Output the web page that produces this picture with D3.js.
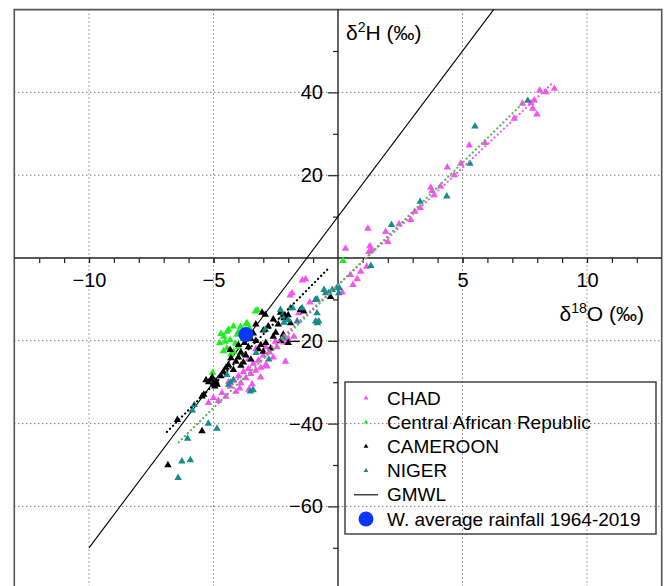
<!DOCTYPE html>
<html>
<head>
<meta charset="utf-8">
<script src="https://cdn.jsdelivr.net/npm/d3@7"></script>
<style>
  body { margin: 0; background: #fff; }
  svg text { font-family: "Liberation Sans", Arial, Helvetica, sans-serif; fill: #000; }
</style>
</head>
<body>
<div id="chart"></div>
<script>
// isotope samples, [d18O, d2H] in permil
const chadPts = [
  [8.69,40.9],[8.35,40.1],[8.1,40.5],[7.88,38.1],[7.75,37.4],[7.41,37.3],[7.82,36.1],[7.99,34.7],
  [7.08,33.7],[5.90,27.8],[5.27,27.2],[4.93,22.8],[4.67,20.0],[4.39,21.9],[4.12,17.3],[3.72,17.0],
  [3.78,16.2],[3.86,15.2],[3.30,12.1],[3.08,11.2],[2.92,9.2],[2.45,8.2],[1.91,6.3],[2.0,3.9],
  [1.2,7.1],[1.28,2.9],[1.24,1.5],[1.35,2.0],[0.91,-3.3],[0.30,2.3],[1.15,-2.1],[0.77,-5.1],
  [0.50,-4.1],[0.17,-8.3],[0.6,-6.5],[-1.43,-5.4],[-1.3,-5.1],[-1.84,-8.5],[-1.92,-9.0],[-1.13,-10.7],
  [-1.58,-13.3],[-1.44,-12.4],[-2.52,-20.2],[-2.18,-20.4],[-2.11,-25.0],[-1.77,-19.0],[-2.85,-26.2],
  [-3.11,-28.8],[-3.58,-31.8],[-4.33,-31.0],[-5.2,-35.0],[-5.0,-33.8],[-4.66,-32.6],[-2.9,-21.5],
  [-4.2,-29.5],[-4.0,-28.5],[-3.9,-30.2],[-3.8,-27.5],[-3.7,-29.0],[-3.6,-26.8],[-3.5,-28.0],
  [-3.4,-25.5],[-3.3,-27.2],[-3.2,-24.8],[-3.1,-26.5],[-3.0,-23.5],[-2.9,-25.8],[-2.75,-22.8],
  [-2.6,-24.0],[-3.95,-31.5],[-4.1,-32.3],[-4.4,-30.0],[-3.45,-30.5],[-3.3,-22.0],[-2.45,-21.5],
  [-2.0,-19.5],[-3.6,-24.5],[-4.5,-33.5],[-4.8,-34.5]
];
const carPts = [
  [-3.32,-12.9],[-3.24,-12.6],[-4.39,-17.3],[-4.2,-16.5],[-4.0,-17.8],[-4.59,-19.0],[-4.33,-19.8],
  [-4.12,-20.6],[-3.92,-16.6],[-4.46,-21.8],[-4.19,-22.6],[-4.46,-17.8],[-4.53,-20.2],[-4.3,-23.3],
  [-4.0,-21.5],[-3.8,-19.5],[-3.65,-15.7],[-3.7,-16.0],[-4.7,-18.3],[-4.75,-20.5],[-3.9,-23.0],
  [-4.6,-22.5],[-4.05,-18.5],[-3.55,-17.0],[-5.04,-27.7],[0.2,-0.7]
];
const cameroonPts = [
  [-2.92,-13.7],[-2.17,-14.5],[-2.17,-14.0],[-2.0,-13.8],[-3.05,-13.2],[-2.31,-13.2],[-2.11,-14.1],
  [-1.51,-12.5],[-1.37,-12.9],[-1.91,-15.7],[-0.30,-9.4],[-3.3,-20.0],[-3.1,-21.0],[-3.0,-22.6],
  [-3.2,-22.0],[-2.9,-20.5],[-2.6,-19.0],[-2.5,-18.0],[-2.7,-21.8],[-3.5,-19.5],[-3.4,-18.2],
  [-2.8,-16.5],[-2.4,-16.0],[-3.6,-21.5],[-3.7,-23.5],[-3.5,-24.5],[-4.33,-22.2],[-4.3,-24.2],
  [-4.1,-25.0],[-3.9,-26.0],[-4.2,-27.0],[-4.0,-24.0],[-3.8,-25.2],[-4.5,-26.5],[-4.6,-27.5],
  [-5.1,-29.4],[-5.0,-30.2],[-4.9,-29.8],[-4.85,-30.6],[-5.2,-30.0],[-5.3,-29.5],[-5.05,-28.8],
  [-4.95,-31.0],[-5.39,-33.0],[-5.46,-33.4],[-5.46,-41.8],[-6.45,-39.1],[-6.83,-50.0],[-2.2,-18.5],
  [-2.0,-20.5],[-2.3,-20.0],[-3.0,-17.5],[-3.3,-16.0],[-2.6,-14.8],[-3.6,-18.8],[-4.0,-21.0],
  [-3.75,-20.5],[-4.4,-25.8],[-4.7,-28.5],[-3.9,-22.8]
];
const nigerPts = [
  [7.62,38.0],[5.5,31.8],[5.3,22.8],[4.37,14.9],[3.3,13.6],[2.15,8.0],[1.32,-1.9],[-0.23,-7.7],
  [-0.37,-8.4],[-0.5,-8.5],[-0.06,-7.3],[0.05,-7.2],[-0.84,-10.0],[-0.91,-10.1],[-1.91,-12.1],
  [-1.44,-12.1],[-1.82,-12.1],[-0.77,-15.3],[-0.9,-15.3],[-0.83,-15.7],[-1.64,-15.3],[-2.17,-15.6],
  [-2.0,-15.0],[0.03,-8.5],[-0.56,-7.7],[-2.19,-19.2],[-3.29,-22.9],[-2.78,-24.5],[-3.41,-31.9],
  [-3.52,-32.2],[-4.39,-30.6],[-4.32,-30.1],[-4.2,-29.5],[-4.86,-41.2],[-5.21,-40.0],[-5.77,-35.5],
  [-5.85,-36.8],[-6.04,-43.6],[-6.27,-49.1],[-5.93,-48.8],[-6.42,-53.1],[-2.92,-17.3],[-2.31,-12.5],
  [-2.24,-14.1],[-4.46,-28.2],[-0.84,-13.3]
];

// lines, endpoints
const gmwl = [[-10, -70], [6.25, 60]];
const chadFit = [[-4.4, -31.4], [8.6, 42.2]];
const nigerFit = [[-6.4, -44.5], [7.41, 37.3]];
const cameroonFit = [[-6.87, -42.0], [-0.35, -2.3]];
const rainfallMean = [-3.7, -18.5];

const xTicksMinor = d3.range(-12, 13).filter(v => v !== 0);
const xTicksMajor = [-10, -5, 5, 10];
const yTicksMinor = [50, 30, 10, -10, -30, -50, -70];
const yTicksMajor = [40, 20, -20, -40, -60];

const legendItems = [
  { label: "CHAD", type: "tri", color: "#f752f2" },
  { label: "Central African Republic", type: "tri", color: "#1fee1f" },
  { label: "CAMEROON", type: "tri", color: "#000000" },
  { label: "NIGER", type: "tri", color: "#168c8c" },
  { label: "GMWL", type: "line", color: "#000000" },
  { label: "W. average rainfall 1964-2019", type: "dot", color: "#0a36ff" }
];

const W = 665, H = 586;
const x = d3.scaleLinear().domain([-13, 13]).range([14.3, 661.7]);
const y = d3.scaleLinear().domain([-80, 60]).range([589.2, 9.6]);

const svg = d3.select("#chart").append("svg")
  .attr("width", W).attr("height", H);

// grid
const grid = svg.append("g")
  .attr("stroke", "#444").attr("stroke-width", 1).attr("stroke-dasharray", "1,3");
grid.selectAll(".gx").data(xTicksMajor).enter().append("line")
  .attr("x1", d => x(d)).attr("x2", d => x(d))
  .attr("y1", y(60)).attr("y2", H);
grid.selectAll(".gy").data(yTicksMajor).enter().append("line")
  .attr("x1", x(-13)).attr("x2", x(13))
  .attr("y1", d => y(d)).attr("y2", d => y(d));

// frame
svg.append("path")
  .attr("d", `M${x(-13)},${H}V${y(60)}H${x(13)}V${H}`)
  .attr("fill", "none").attr("stroke", "#555").attr("stroke-width", 1.6);

// axes through the origin
svg.append("line").attr("x1", x(-13)).attr("x2", x(13))
  .attr("y1", y(0)).attr("y2", y(0)).attr("stroke", "#222").attr("stroke-width", 1.4);
svg.append("line").attr("x1", x(0)).attr("x2", x(0))
  .attr("y1", y(60)).attr("y2", H).attr("stroke", "#222").attr("stroke-width", 1.4);

const xAxisMinor = svg.append("g").attr("transform", `translate(0,${y(0)})`)
  .call(d3.axisBottom(x).tickValues(xTicksMinor).tickSize(5).tickFormat(""));
const xAxisMajor = svg.append("g").attr("transform", `translate(0,${y(0)})`)
  .call(d3.axisBottom(x).tickValues(xTicksMajor).tickSize(5).tickPadding(10));
const yAxisMinor = svg.append("g").attr("transform", `translate(${x(0)},0)`)
  .call(d3.axisLeft(y).tickValues(yTicksMinor).tickSize(5).tickFormat(""));
const yAxisMajor = svg.append("g").attr("transform", `translate(${x(0)},0)`)
  .call(d3.axisLeft(y).tickValues(yTicksMajor).tickSize(10).tickPadding(5));

[xAxisMinor, xAxisMajor, yAxisMinor, yAxisMajor].forEach(g => {
  g.select(".domain").remove();
  g.selectAll(".tick line").attr("stroke", "#222").attr("stroke-width", 1.2);
  g.selectAll("text").attr("font-size", 20).attr("font-family", null).attr("fill", "#000");
});

// axis titles
const yTitle = svg.append("text").attr("x", 346).attr("y", 40).attr("font-size", 21);
yTitle.append("tspan").text("δ");
yTitle.append("tspan").attr("font-size", 14).attr("dy", -8).text("2");
yTitle.append("tspan").attr("dy", 8).text("H (‰)");

const xTitle = svg.append("text").attr("x", 644).attr("y", 321)
  .attr("font-size", 21).attr("text-anchor", "end");
xTitle.append("tspan").text("δ");
xTitle.append("tspan").attr("font-size", 14).attr("dy", -8).text("18");
xTitle.append("tspan").attr("dy", 8).text("O (‰)");

// GMWL
const line = d3.line().x(d => x(d[0])).y(d => y(d[1]));
svg.append("path").datum(gmwl).attr("d", line)
  .attr("fill", "none").attr("stroke", "#000").attr("stroke-width", 1.1);

// samples
const tri = d3.symbol().type(d3.symbolTriangle).size(24);
function drawPts(data, color) {
  svg.append("g").selectAll("path").data(data).enter().append("path")
    .attr("d", tri)
    .attr("transform", d => `translate(${x(d[0])},${y(d[1])})`)
    .attr("fill", color);
}
drawPts(chadPts, legendItems[0].color);
drawPts(carPts, legendItems[1].color);
drawPts(cameroonPts, legendItems[2].color);
drawPts(nigerPts, legendItems[3].color);

// fitted lines (dotted)
function drawFit(data, color) {
  svg.append("path").datum(data).attr("d", line)
    .attr("fill", "none").attr("stroke", color).attr("stroke-width", 2.2)
    .attr("stroke-linecap", "round").attr("stroke-dasharray", "0.1,4.2");
}
drawFit(chadFit, "#f35af0");
drawFit(nigerFit, "#55b84e");
drawFit(cameroonFit, "#000");

// weighted average rainfall
svg.append("circle").attr("cx", x(rainfallMean[0])).attr("cy", y(rainfallMean[1]))
  .attr("r", 7.5).attr("fill", legendItems[5].color);

// legend
const lg = svg.append("g");
lg.append("rect").attr("x", 345).attr("y", 382).attr("width", 311).attr("height", 152)
  .attr("fill", "none").attr("stroke", "#444").attr("stroke-width", 1.5);
const rows = lg.selectAll(".row").data(legendItems).enter().append("g")
  .attr("transform", (d, i) => `translate(366,${398 + i * 24.2})`);
rows.filter(d => d.type === "tri").append("path")
  .attr("d", d3.symbol().type(d3.symbolTriangle).size(10))
  .attr("fill", d => d.color);
rows.filter(d => d.type === "line").append("line")
  .attr("x1", -12).attr("x2", 12).attr("stroke", "#000").attr("stroke-width", 1.1);
rows.filter(d => d.type === "dot").append("circle")
  .attr("r", 7.5).attr("fill", d => d.color);
rows.append("text").attr("x", 21).attr("dy", "0.35em").attr("font-size", 19)
  .text(d => d.label);
</script>
</body>
</html>
